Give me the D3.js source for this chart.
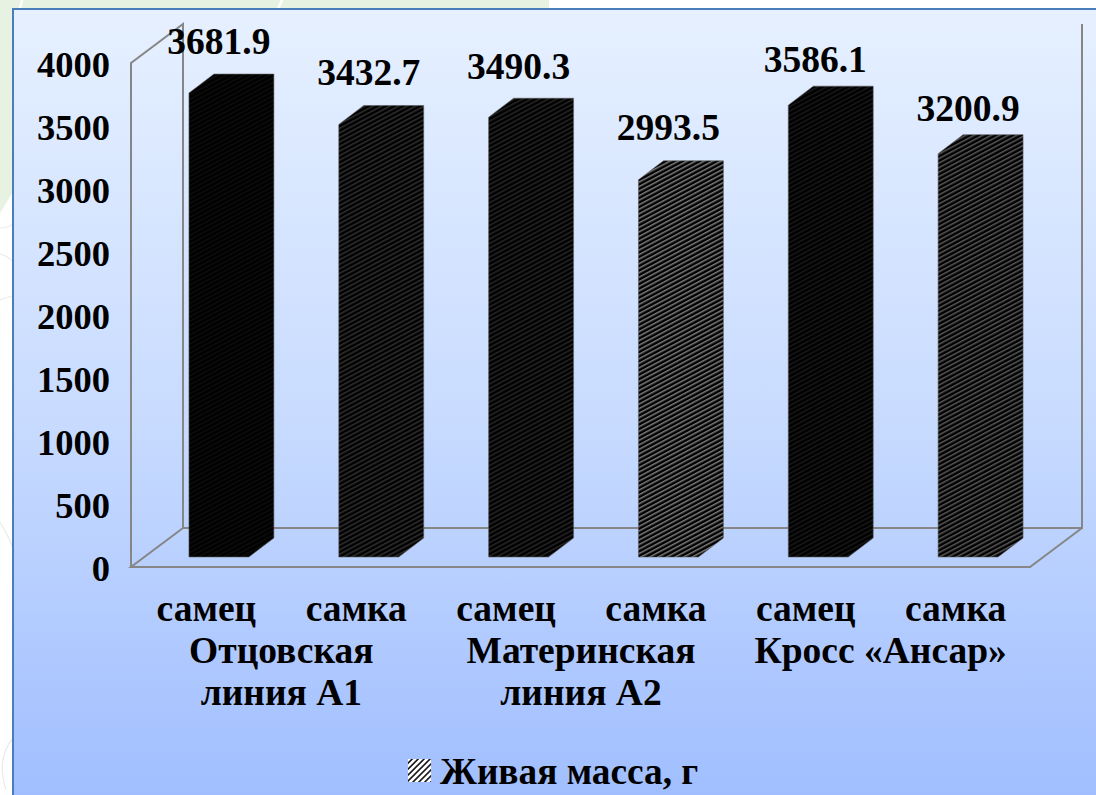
<!DOCTYPE html>
<html>
<head>
<meta charset="utf-8">
<style>
    html, body { margin: 0; padding: 0; background: #fff; overflow: hidden; }
    svg { display: block; }
    text { font-family: "Liberation Serif", serif; font-weight: bold; fill: #000; }
</style>
<script src="https://d3js.org/d3.v7.min.js"></script>
</head>
<body>
<svg width="1096" height="795"></svg>
<script>
const categories = ["самец", "самка", "самец", "самка", "самец", "самка"];
const values = [3681.9, 3432.7, 3490.3, 2993.5, 3586.1, 3200.9];
const groups = [
    { from: 0, to: 1, lines: ["Отцовская", "линия А1"] },
    { from: 2, to: 3, lines: ["Материнская", "линия А2"] },
    { from: 4, to: 5, lines: ["Кросс «Ансар»"] }
];
const ticks = [0, 500, 1000, 1500, 2000, 2500, 3000, 3500, 4000];
const legendLabel = "Живая масса, г";

// how light the stripes of each bar are
const stripeColors = ["#0d0d0d", "#303030", "#262626", "#7c7c7c", "#181818", "#585858"];
// the value labels were moved by hand in the original
const labelNudge = [[0, 1], [0, 1], [0, 2], [0, 0], [-3, 7], [0, 7]];

const svg = d3.select("svg");
const defs = svg.append("defs");

const grad = defs.append("linearGradient").attr("id", "bg")
    .attr("x1", 0).attr("y1", 0).attr("x2", 0).attr("y2", 1);
grad.append("stop").attr("offset", "0%").attr("stop-color", "#e6f0ff");
grad.append("stop").attr("offset", "50%").attr("stop-color", "#c9dcff");
grad.append("stop").attr("offset", "100%").attr("stop-color", "#9fbdff");

// page behind the chart
svg.append("rect").attr("width", 1096).attr("height", 795).attr("fill", "#fff");
svg.append("path").attr("d", "M0,0 L549,0 L549,9 L13,9 L13,192 L0,213 Z").attr("fill", "#e7f2e2");
svg.append("path").attr("d", "M22,0 L20,9 M282,0 L278,9").attr("stroke", "#fff").attr("stroke-width", 2.5);
svg.append("path").attr("d", "M0,228 Q8,228 13,224 M0,254 Q8,256 13,262 M0,300 Q8,297 13,296 M0,522 Q8,535 13,548 M13,738 Q-4,758 6,790")
    .attr("fill", "none").attr("stroke", "#e8ece8").attr("stroke-width", 1.2);

// chart area
svg.append("rect").attr("x", 13).attr("y", 9).attr("width", 1100).attr("height", 800)
    .attr("fill", "url(#bg)").attr("stroke", "#4a7ebb").attr("stroke-width", 2);

const wallDx = 52, wallDy = -39, barDx = 25, barDy = -19, barLift = 10, barShift = 13;
const x0 = 131, x1 = 1030;

const y = d3.scaleLinear().domain([0, 4000]).range([567, 63]);
const x = d3.scaleBand().domain(d3.range(values.length))
    .range([x0 + barShift, x1 + barShift]).paddingInner(0.6).paddingOuter(0.3);

// walls and floor
const wall = "#868686";
const yb = y(0), yt = y(4000);
svg.append("path").attr("fill", "none").attr("stroke", wall).attr("stroke-width", 2)
    .attr("d", d3.line()([[x0, yb], [x0, yt], [x0 + wallDx, yt + wallDy], [x0 + wallDx, yb + wallDy], [x1 + wallDx, yb + wallDy], [x1 + wallDx, yt + wallDy]]));
svg.append("path").attr("fill", "none").attr("stroke", wall).attr("stroke-width", 2)
    .attr("d", d3.line()([[x0 + wallDx, yb + wallDy], [x0, yb], [x1, yb], [x1 + wallDx, yb + wallDy]]));

// tick labels
const axis = d3.axisLeft(y).tickValues(ticks).tickSize(0).tickPadding(0).tickFormat(d3.format("d"));
const axisG = svg.append("g").attr("transform", "translate(110,0)").call(axis);
axisG.select(".domain").remove();
axisG.selectAll("text").attr("font-size", 36.5).attr("font-family", "Liberation Serif")
    .attr("font-weight", "bold").attr("dy", 13.5).attr("fill", "#000");

// hatching, one per bar
stripeColors.forEach((c, i) => {
    const size = 4;
    const p = defs.append("pattern").attr("id", "hatch" + i)
        .attr("patternUnits", "userSpaceOnUse").attr("width", size).attr("height", size)
        .attr("patternTransform", "rotate(-28)");
    p.append("rect").attr("width", size).attr("height", size).attr("fill", "#000");
    p.append("rect").attr("width", size).attr("height", size * 0.38).attr("fill", c);
});

// bars: one outline for front, top and side, the original shows no seam between them
const bars = svg.append("g").selectAll("g").data(values).join("g");
const bw = x.bandwidth();
bars.append("path")
    .attr("fill", (d, i) => "url(#hatch" + i + ")")
    .attr("stroke", "#5a5a5a").attr("stroke-width", 0.6)
    .attr("d", (d, i) => {
        const l = x(i), top = y(d) - barLift, bot = yb - barLift;
        return d3.line()([[l, top], [l + barDx, top + barDy], [l + bw + barDx, top + barDy], [l + bw + barDx, bot + barDy], [l + bw, bot], [l, bot]]) + "Z";
    });

// value labels
bars.append("text")
    .attr("x", (d, i) => x(i) + bw / 2 + labelNudge[i][0])
    .attr("y", (d, i) => y(d) - barLift + barDy - 21 + labelNudge[i][1])
    .attr("text-anchor", "middle").attr("font-size", 37.5)
    .text(d => d.toFixed(1));

// category labels
const labelX = i => x(i) + bw / 2 - 12.5;
svg.append("g").selectAll("text").data(categories).join("text")
    .attr("x", (d, i) => labelX(i)).attr("y", 621)
    .attr("text-anchor", "middle").attr("font-size", 37.5)
    .text(d => d);
groups.forEach(g => {
    g.lines.forEach((line, j) => {
        svg.append("text")
            .attr("x", (labelX(g.from) + labelX(g.to)) / 2).attr("y", 663 + j * 42)
            .attr("text-anchor", "middle").attr("font-size", 37.5)
            .text(line);
    });
});

// legend
const lp = defs.append("pattern").attr("id", "legendHatch").attr("patternUnits", "userSpaceOnUse")
    .attr("width", 4.2).attr("height", 4.2).attr("patternTransform", "rotate(-45)");
lp.append("rect").attr("width", 4.2).attr("height", 4.2).attr("fill", "#fff");
lp.append("rect").attr("width", 4.2).attr("height", 1.5).attr("fill", "#000");
svg.append("rect").attr("x", 408).attr("y", 759).attr("width", 23).attr("height", 23).attr("fill", "url(#legendHatch)");
svg.append("text").attr("x", 440).attr("y", 784).attr("font-size", 37.3).text(legendLabel);
</script>
</body>
</html>
